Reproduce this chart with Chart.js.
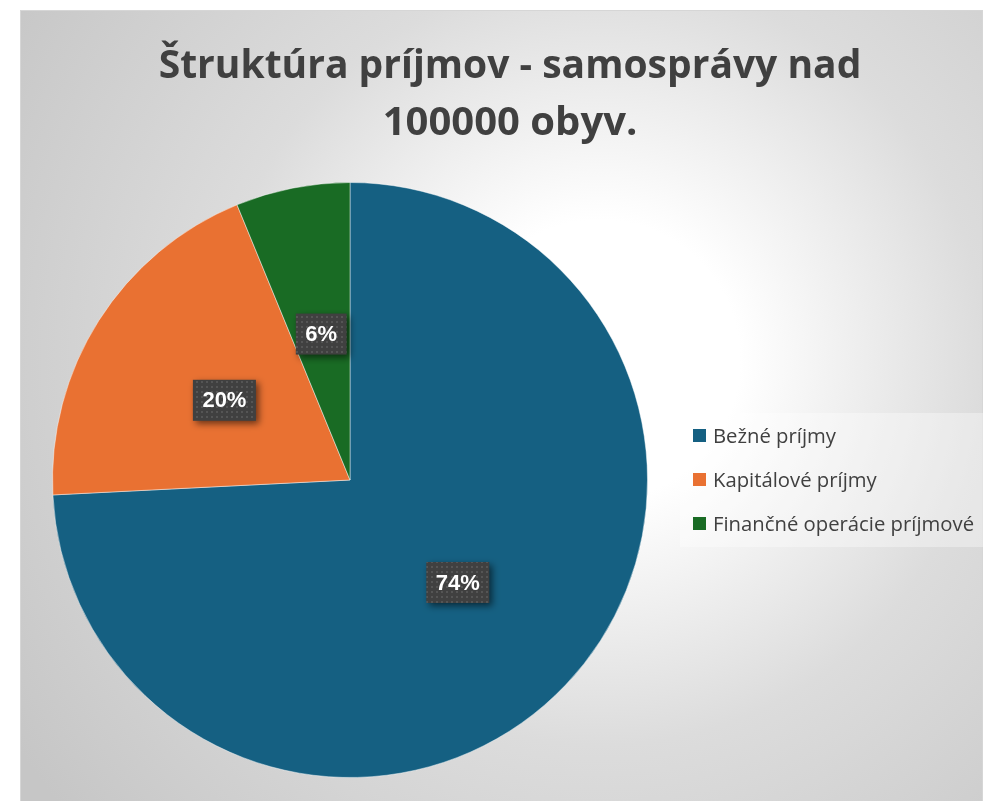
<html>
<head>
<meta charset="utf-8">
<script src="https://cdn.jsdelivr.net/npm/chart.js@4.4.1/dist/chart.umd.min.js"></script>
<style>
  body { margin:0; background:#fff; }
  #wrap { width:985px; height:801px; position:relative; }
</style>
</head>
<body>
<div id="wrap"><canvas id="myChart"></canvas></div>
<script>
// data
var categories = ['Bežné príjmy', 'Kapitálové príjmy', 'Finančné operácie príjmové'];
var shares = [74.2, 19.6, 6.2];
var colors = ['#156082', '#E97132', '#196B24'];
var titleLines = ['Štruktúra príjmov - samosprávy nad', '100000 obyv.'];

// dotted fill for the data label boxes
function labelPattern(ctx){
    var c = document.createElement('canvas');
    c.width = 5; c.height = 5;
    var p = c.getContext('2d');
    p.fillStyle = '#404040';
    p.fillRect(0,0,5,5);
    p.fillStyle = '#555555';
    p.fillRect(1,1,2,2);
    return ctx.createPattern(c, 'repeat');
}

var frame = {
    id: 'frame',
    beforeDraw: function(chart){
        var ctx = chart.ctx;
        ctx.save();
        var g = ctx.createRadialGradient(600,360,0,600,360,700);
        g.addColorStop(0, '#ffffff');
        g.addColorStop(0.2, '#ffffff');
        g.addColorStop(0.55, '#dcdcdc');
        g.addColorStop(1, '#c6c6c6');
        ctx.fillStyle = g;
        ctx.fillRect(20,10,963,791);
        ctx.strokeStyle = '#d6d6d6';
        ctx.lineWidth = 1;
        ctx.strokeRect(20.5,10.5,962,791);
        ctx.restore();
    },
    afterDraw: function(chart){
        var ctx = chart.ctx;
        ctx.save();
        // title
        ctx.fillStyle = '#404040';
        ctx.font = 'bold 39px "Open Sans"';
        ctx.textAlign = 'center';
        ctx.textBaseline = 'alphabetic';
        ctx.fillText(titleLines[0], 510, 78);
        ctx.font = 'bold 40px "Open Sans"';
        ctx.fillText(titleLines[1], 510, 135);

        // legend
        ctx.fillStyle = 'rgba(255,255,255,0.35)';
        ctx.fillRect(680,413,303,134);
        ctx.font = '20.3px "Open Sans"';
        ctx.textAlign = 'left';
        ctx.textBaseline = 'middle';
        for(var i=0;i<categories.length;i++){
            var y = 436 + i*44;
            ctx.fillStyle = colors[i];
            ctx.fillRect(693, y-7, 13, 13);
            ctx.fillStyle = '#404040';
            ctx.fillText(categories[i], 713, y+1);
        }

        // data labels
        var meta = chart.getDatasetMeta(0);
        var total = shares.reduce(function(a,b){return a+b;},0);
        var pat = labelPattern(ctx);
        ctx.font = 'bold 22px "Liberation Sans"';
        ctx.textAlign = 'center';
        meta.data.forEach(function(arc, i){
            var pos = arc.tooltipPosition();
            var txt = Math.round(shares[i]/total*100) + '%';
            var w = ctx.measureText(txt).width + 19;
            var h = 41;
            ctx.save();
            ctx.shadowColor = 'rgba(0,0,0,0.55)';
            ctx.shadowBlur = 7;
            ctx.shadowOffsetX = 3;
            ctx.shadowOffsetY = 3;
            ctx.fillStyle = pat;
            ctx.fillRect(pos.x - w/2, pos.y - h/2, w, h);
            ctx.restore();
            ctx.fillStyle = '#ffffff';
            ctx.fillText(txt, pos.x, pos.y + 1);
        });
        ctx.restore();
    }
};

var ctx = document.getElementById('myChart').getContext('2d');
var chart = new Chart(ctx, {
    type: 'pie',
    data: {
        labels: categories,
        datasets: [{
            data: shares,
            backgroundColor: colors,
            borderColor: 'rgba(255,255,255,0.45)',
            borderWidth: 1
        }]
    },
    options: {
        responsive: true,
        maintainAspectRatio: false,
        animation: false,
        layout: { padding: { left: 52, right: 337, top: 182, bottom: 23 } },
        plugins: {
            legend: { display: false },
            title: { display: false },
            tooltip: { enabled: false }
        }
    },
    plugins: [frame]
});
</script>
</body>
</html>
